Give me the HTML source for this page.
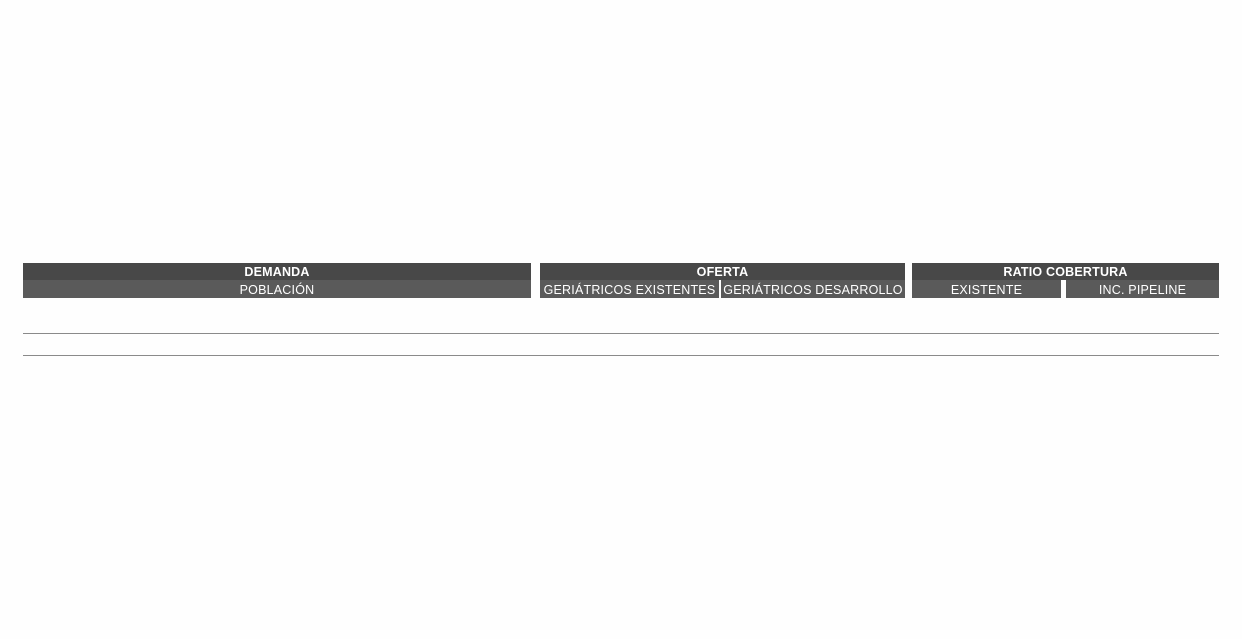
<!DOCTYPE html>
<html><head><style>
body{margin:0;width:1242px;height:639px;background:#fefefe;position:relative;font-family:"Liberation Sans",sans-serif;color:#fff;overflow:hidden}
.b{position:absolute;font-size:12.5px;text-align:center;line-height:18px;white-space:nowrap;letter-spacing:0.2px}
.t{background:#484848;font-weight:bold;top:263px;height:17px}
.s{background:#5a5a5a;top:280px;height:18px;line-height:20px}
.l{position:absolute;left:23px;width:1196px;height:1px;background:#8a8a8a}
</style></head><body>
<div class="b t" style="left:23px;width:508px">DEMANDA</div>
<div class="b s" style="left:23px;width:508px">POBLACIÓN</div>
<div class="b t" style="left:540px;width:365px">OFERTA</div>
<div class="b s" style="left:540px;width:179px">GERIÁTRICOS EXISTENTES</div>
<div class="b s" style="left:721px;width:184px">GERIÁTRICOS DESARROLLO</div>
<div class="b t" style="left:912px;width:307px">RATIO COBERTURA</div>
<div class="b s" style="left:912px;width:149px">EXISTENTE</div>
<div class="b s" style="left:1066px;width:153px">INC. PIPELINE</div>
<div class="l" style="top:333px"></div>
<div class="l" style="top:355px"></div>
</body></html>
